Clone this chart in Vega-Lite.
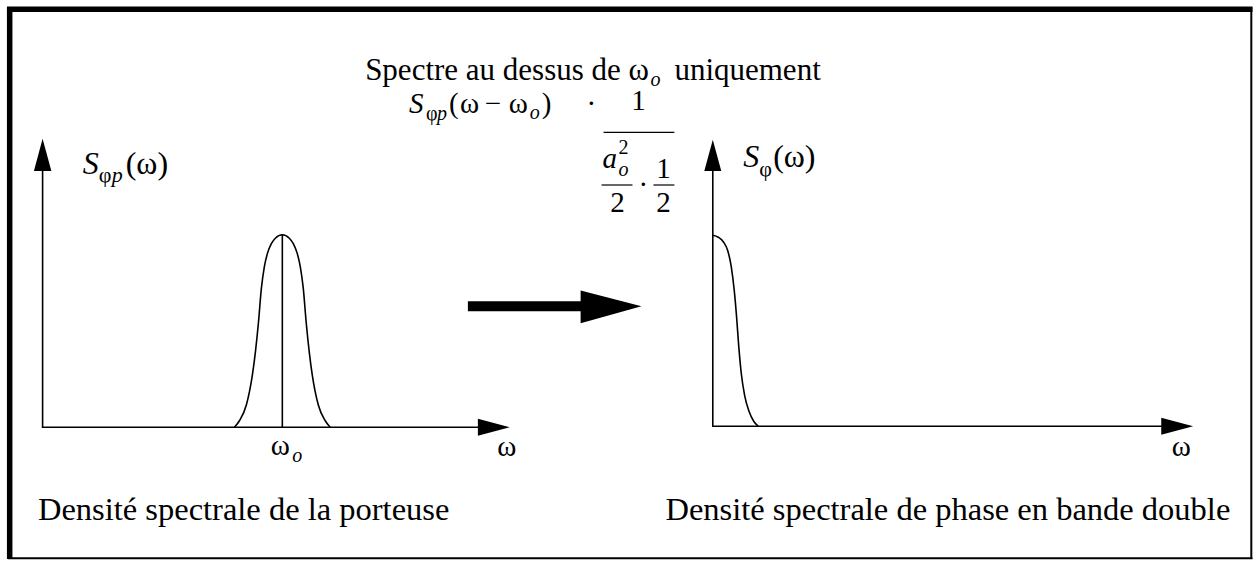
{
  "$schema": "https://vega.github.io/schema/vega-lite/v6.json",
  "width": 1256,
  "height": 562,
  "autosize": {"type": "fit", "contains": "padding"},
  "padding": 0,
  "background": "white",
  "config": {"view": {"stroke": null}},
  "datasets": {
    "frameThick": [
      {"x": 7, "y": 9.3, "x2": 1255.5, "y2": 9.3},
      {"x": 9.7, "y": 7, "x2": 9.7, "y2": 562}
    ],
    "frameThin": [
      {"x": 1254.3, "y": 7, "x2": 1254.3, "y2": 562},
      {"x": 8, "y": 561.2, "x2": 1255.5, "y2": 561.2}
    ],
    "axes": [
      {"x": 42.7, "y": 170, "x2": 42.7, "y2": 430},
      {"x": 42, "y": 429.5, "x2": 482, "y2": 429.5},
      {"x": 714.5, "y": 170, "x2": 714.5, "y2": 429},
      {"x": 714, "y": 428.5, "x2": 1166, "y2": 428.5},
      {"x": 283, "y": 236, "x2": 283, "y2": 429.5}
    ],
    "shaft": [{"x": 469, "y": 308, "x2": 585, "y2": 308}],
    "fracBars": [
      {"x": 605, "y": 133, "x2": 676, "y2": 133},
      {"x": 603, "y": 186, "x2": 634, "y2": 186},
      {"x": 655, "y": 186, "x2": 676, "y2": 186}
    ],
    "headsH": [
      {"id": "L", "x": 479, "y": 421, "y2": 438},
      {"id": "L", "x": 511, "y": 429.5, "y2": 429.5},
      {"id": "R", "x": 1164, "y": 420, "y2": 437},
      {"id": "R", "x": 1196, "y": 428.5, "y2": 428.5},
      {"id": "B", "x": 582, "y": 292, "y2": 325},
      {"id": "B", "x": 643, "y": 308, "y2": 308}
    ],
    "headsV": [
      {"id": "L", "y": 172, "x": 34, "x2": 51.5},
      {"id": "L", "y": 139.5, "x": 42.7, "x2": 42.7},
      {"id": "R", "y": 172, "x": 706, "x2": 723},
      {"id": "R", "y": 140.5, "x": 714.5, "x2": 714.5}
    ],
    "curves": [
      {"id": "bell", "i": 1, "x": 235, "y": 429.5},
      {"id": "bell", "i": 2, "x": 240, "y": 423},
      {"id": "bell", "i": 3, "x": 247, "y": 407},
      {"id": "bell", "i": 4, "x": 253, "y": 377},
      {"id": "bell", "i": 5, "x": 256, "y": 354},
      {"id": "bell", "i": 6, "x": 259, "y": 325},
      {"id": "bell", "i": 7, "x": 262, "y": 290},
      {"id": "bell", "i": 8, "x": 265, "y": 268},
      {"id": "bell", "i": 9, "x": 268, "y": 255},
      {"id": "bell", "i": 10, "x": 272, "y": 245},
      {"id": "bell", "i": 11, "x": 276, "y": 239.5},
      {"id": "bell", "i": 12, "x": 283, "y": 236},
      {"id": "bell", "i": 13, "x": 290, "y": 239.5},
      {"id": "bell", "i": 14, "x": 294, "y": 245},
      {"id": "bell", "i": 15, "x": 298, "y": 255},
      {"id": "bell", "i": 16, "x": 301, "y": 268},
      {"id": "bell", "i": 17, "x": 304, "y": 290},
      {"id": "bell", "i": 18, "x": 307, "y": 325},
      {"id": "bell", "i": 19, "x": 310, "y": 354},
      {"id": "bell", "i": 20, "x": 313, "y": 377},
      {"id": "bell", "i": 21, "x": 319, "y": 407},
      {"id": "bell", "i": 22, "x": 326, "y": 423},
      {"id": "bell", "i": 23, "x": 331, "y": 429.5},
      {"id": "half", "i": 1, "x": 714.5, "y": 236.5},
      {"id": "half", "i": 2, "x": 720, "y": 238.5},
      {"id": "half", "i": 3, "x": 725, "y": 243},
      {"id": "half", "i": 4, "x": 729.5, "y": 252},
      {"id": "half", "i": 5, "x": 733, "y": 268},
      {"id": "half", "i": 6, "x": 736, "y": 292},
      {"id": "half", "i": 7, "x": 738.3, "y": 318},
      {"id": "half", "i": 8, "x": 740.5, "y": 348},
      {"id": "half", "i": 9, "x": 743, "y": 375},
      {"id": "half", "i": 10, "x": 746.5, "y": 398},
      {"id": "half", "i": 11, "x": 751, "y": 414},
      {"id": "half", "i": 12, "x": 755.5, "y": 423.5},
      {"id": "half", "i": 13, "x": 760, "y": 428.5}
    ],
    "texts": [
      {"kind": "title", "t": "Spectre au dessus de", "x": 366, "y": 80},
      {"kind": "title", "t": "ω", "x": 630, "y": 80},
      {"kind": "subItalic", "t": "o", "x": 652, "y": 86},
      {"kind": "title", "t": "uniquement", "x": 676, "y": 80},
      {"kind": "italic", "t": "S", "x": 410, "y": 114},
      {"kind": "subRoman", "t": "φ", "x": 427, "y": 121},
      {"kind": "subItalic", "t": "p", "x": 438, "y": 121},
      {"kind": "roman", "t": "(", "x": 450, "y": 114},
      {"kind": "roman", "t": "ω", "x": 461, "y": 114},
      {"kind": "roman", "t": "−", "x": 486, "y": 114},
      {"kind": "roman", "t": "ω", "x": 510, "y": 114},
      {"kind": "subItalic", "t": "o", "x": 531, "y": 120},
      {"kind": "roman", "t": ")", "x": 543, "y": 114},
      {"kind": "roman", "t": "·", "x": 588, "y": 114},
      {"kind": "romanCenter", "t": "1", "x": 640, "y": 111},
      {"kind": "italic", "t": "a", "x": 604, "y": 169},
      {"kind": "subRoman", "t": "2", "x": 620, "y": 155},
      {"kind": "subItalic", "t": "o", "x": 620, "y": 177},
      {"kind": "romanCenter", "t": "2", "x": 619, "y": 213},
      {"kind": "roman", "t": "·", "x": 640, "y": 195},
      {"kind": "romanCenter", "t": "1", "x": 665, "y": 179},
      {"kind": "romanCenter", "t": "2", "x": 665, "y": 213},
      {"kind": "label", "t": "S", "x": 83, "y": 175},
      {"kind": "labelSub", "t": "φ", "x": 99, "y": 183},
      {"kind": "labelSubItalic", "t": "p", "x": 112, "y": 183},
      {"kind": "labelRoman", "t": "(ω)", "x": 126, "y": 175},
      {"kind": "label", "t": "S", "x": 745, "y": 168},
      {"kind": "labelSub", "t": "φ", "x": 761, "y": 177},
      {"kind": "labelRoman", "t": "(ω)", "x": 775, "y": 168},
      {"kind": "romanCenter", "t": "ω", "x": 281, "y": 457},
      {"kind": "subItalic", "t": "o", "x": 293, "y": 464},
      {"kind": "romanCenter", "t": "ω", "x": 508, "y": 458},
      {"kind": "romanCenter", "t": "ω", "x": 1184, "y": 458},
      {"kind": "bottom", "t": "Densité spectrale de la porteuse", "x": 38, "y": 523},
      {"kind": "bottom", "t": "Densité spectrale de phase en bande double", "x": 667, "y": 523}
    ]
  },
  "encoding": {
    "x": {"type": "quantitative", "scale": {"domain": [0, 1256], "nice": false, "zero": false}, "axis": null},
    "y": {"type": "quantitative", "scale": {"domain": [0, 562], "nice": false, "zero": false, "reverse": true}, "axis": null}
  },
  "layer": [
    {
      "data": {"name": "frameThick"},
      "mark": {"type": "rule", "color": "black", "strokeWidth": 5.5, "strokeCap": "butt"},
      "encoding": {"x": {"field": "x"}, "y": {"field": "y"}, "x2": {"field": "x2"}, "y2": {"field": "y2"}}
    },
    {
      "data": {"name": "frameThin"},
      "mark": {"type": "rule", "color": "black", "strokeWidth": 2, "strokeCap": "butt"},
      "encoding": {"x": {"field": "x"}, "y": {"field": "y"}, "x2": {"field": "x2"}, "y2": {"field": "y2"}}
    },
    {
      "data": {"name": "axes"},
      "mark": {"type": "rule", "color": "black", "strokeWidth": 1.6, "strokeCap": "butt"},
      "encoding": {"x": {"field": "x"}, "y": {"field": "y"}, "x2": {"field": "x2"}, "y2": {"field": "y2"}}
    },
    {
      "data": {"name": "fracBars"},
      "mark": {"type": "rule", "color": "black", "strokeWidth": 1.2, "strokeCap": "butt"},
      "encoding": {"x": {"field": "x"}, "y": {"field": "y"}, "x2": {"field": "x2"}, "y2": {"field": "y2"}}
    },
    {
      "data": {"name": "shaft"},
      "mark": {"type": "rule", "color": "black", "strokeWidth": 10, "strokeCap": "butt"},
      "encoding": {"x": {"field": "x"}, "y": {"field": "y"}, "x2": {"field": "x2"}, "y2": {"field": "y2"}}
    },
    {
      "data": {"name": "headsH"},
      "mark": {"type": "area", "orient": "vertical", "color": "black", "opacity": 1},
      "encoding": {"x": {"field": "x"}, "y": {"field": "y"}, "y2": {"field": "y2"}, "detail": {"field": "id"}}
    },
    {
      "data": {"name": "headsV"},
      "mark": {"type": "area", "orient": "horizontal", "color": "black", "opacity": 1},
      "encoding": {"y": {"field": "y"}, "x": {"field": "x"}, "x2": {"field": "x2"}, "detail": {"field": "id"}}
    },
    {
      "data": {"name": "curves"},
      "mark": {"type": "line", "color": "black", "strokeWidth": 1.6, "interpolate": "monotone"},
      "encoding": {"x": {"field": "x"}, "y": {"field": "y"}, "detail": {"field": "id"}, "order": {"field": "i"}}
    },
    {
      "data": {"name": "texts"},
      "transform": [{"filter": "datum.kind === 'title'"}],
      "mark": {"type": "text", "align": "left", "baseline": "alphabetic", "font": "Liberation Serif", "fontSize": 31, "color": "black"},
      "encoding": {"x": {"field": "x"}, "y": {"field": "y"}, "text": {"field": "t"}}
    },
    {
      "data": {"name": "texts"},
      "transform": [{"filter": "datum.kind === 'bottom'"}],
      "mark": {"type": "text", "align": "left", "baseline": "alphabetic", "font": "Liberation Serif", "fontSize": 32.5, "color": "black"},
      "encoding": {"x": {"field": "x"}, "y": {"field": "y"}, "text": {"field": "t"}}
    },
    {
      "data": {"name": "texts"},
      "transform": [{"filter": "datum.kind === 'roman'"}],
      "mark": {"type": "text", "align": "left", "baseline": "alphabetic", "font": "Liberation Serif", "fontSize": 29, "color": "black"},
      "encoding": {"x": {"field": "x"}, "y": {"field": "y"}, "text": {"field": "t"}}
    },
    {
      "data": {"name": "texts"},
      "transform": [{"filter": "datum.kind === 'romanCenter'"}],
      "mark": {"type": "text", "align": "center", "baseline": "alphabetic", "font": "Liberation Serif", "fontSize": 29, "color": "black"},
      "encoding": {"x": {"field": "x"}, "y": {"field": "y"}, "text": {"field": "t"}}
    },
    {
      "data": {"name": "texts"},
      "transform": [{"filter": "datum.kind === 'italic'"}],
      "mark": {"type": "text", "align": "left", "baseline": "alphabetic", "font": "Liberation Serif", "fontStyle": "italic", "fontSize": 29, "color": "black"},
      "encoding": {"x": {"field": "x"}, "y": {"field": "y"}, "text": {"field": "t"}}
    },
    {
      "data": {"name": "texts"},
      "transform": [{"filter": "datum.kind === 'subRoman'"}],
      "mark": {"type": "text", "align": "left", "baseline": "alphabetic", "font": "Liberation Serif", "fontSize": 20, "color": "black"},
      "encoding": {"x": {"field": "x"}, "y": {"field": "y"}, "text": {"field": "t"}}
    },
    {
      "data": {"name": "texts"},
      "transform": [{"filter": "datum.kind === 'subItalic'"}],
      "mark": {"type": "text", "align": "left", "baseline": "alphabetic", "font": "Liberation Serif", "fontStyle": "italic", "fontSize": 20, "color": "black"},
      "encoding": {"x": {"field": "x"}, "y": {"field": "y"}, "text": {"field": "t"}}
    },
    {
      "data": {"name": "texts"},
      "transform": [{"filter": "datum.kind === 'label'"}],
      "mark": {"type": "text", "align": "left", "baseline": "alphabetic", "font": "Liberation Serif", "fontStyle": "italic", "fontSize": 32, "color": "black"},
      "encoding": {"x": {"field": "x"}, "y": {"field": "y"}, "text": {"field": "t"}}
    },
    {
      "data": {"name": "texts"},
      "transform": [{"filter": "datum.kind === 'labelRoman'"}],
      "mark": {"type": "text", "align": "left", "baseline": "alphabetic", "font": "Liberation Serif", "fontSize": 32, "color": "black"},
      "encoding": {"x": {"field": "x"}, "y": {"field": "y"}, "text": {"field": "t"}}
    },
    {
      "data": {"name": "texts"},
      "transform": [{"filter": "datum.kind === 'labelSub'"}],
      "mark": {"type": "text", "align": "left", "baseline": "alphabetic", "font": "Liberation Serif", "fontSize": 22, "color": "black"},
      "encoding": {"x": {"field": "x"}, "y": {"field": "y"}, "text": {"field": "t"}}
    },
    {
      "data": {"name": "texts"},
      "transform": [{"filter": "datum.kind === 'labelSubItalic'"}],
      "mark": {"type": "text", "align": "left", "baseline": "alphabetic", "font": "Liberation Serif", "fontStyle": "italic", "fontSize": 22, "color": "black"},
      "encoding": {"x": {"field": "x"}, "y": {"field": "y"}, "text": {"field": "t"}}
    }
  ]
}
